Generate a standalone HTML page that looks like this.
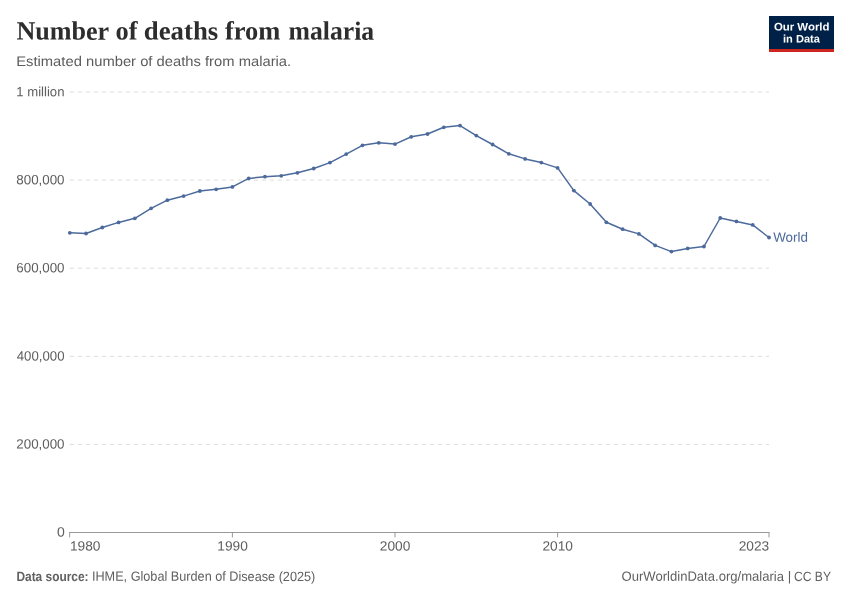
<!DOCTYPE html>
<html><head><meta charset="utf-8"><title>Number of deaths from malaria</title>
<style>
html,body{margin:0;padding:0;background:#fff;}
svg{display:block;font-family:"Liberation Sans",sans-serif;text-rendering:geometricPrecision;}
.t{font-family:"Liberation Serif",serif;font-weight:bold;fill:#2d2d2d;}
.ax{font-size:13.4px;fill:#5e5e5e;}
.ft{font-size:13.4px;fill:#606060;}
</style></head><body>
<svg width="850" height="600" viewBox="0 0 850 600">
<rect width="850" height="600" fill="#fff"/>
<g class="t" font-size="26.4">
<text x="16.4" y="39.6" textLength="92.8" lengthAdjust="spacingAndGlyphs" transform="rotate(0.03 16.4 39.6)">Number</text>
<text x="115.6" y="39.6" textLength="22" lengthAdjust="spacingAndGlyphs" transform="rotate(0.03 115.6 39.6)">of</text>
<text x="143.8" y="39.6" textLength="74.4" lengthAdjust="spacingAndGlyphs" transform="rotate(0.03 143.8 39.6)">deaths</text>
<text x="225" y="39.6" textLength="55.4" lengthAdjust="spacingAndGlyphs" transform="rotate(0.03 225 39.6)">from</text>
<text x="288.6" y="39.6" textLength="85.6" lengthAdjust="spacingAndGlyphs" transform="rotate(0.03 288.6 39.6)">malaria</text>
</g>
<text x="16.2" y="65.9" textLength="275" lengthAdjust="spacingAndGlyphs" font-size="14" fill="#5b5b5b">Estimated number of deaths from malaria.</text>
<g>
<rect x="769" y="16" width="65" height="36" fill="#002147"/>
<rect x="769" y="49" width="65" height="3" fill="#ce261e"/>
<g fill="#fff" font-weight="bold" font-size="11" text-anchor="middle">
<text x="801.7" y="30.5" textLength="55.6" lengthAdjust="spacingAndGlyphs" transform="rotate(0.03 801.7 30.5)">Our World</text>
<text x="801.5" y="42.55" textLength="37" lengthAdjust="spacingAndGlyphs" transform="rotate(0.03 801.5 42.55)">in Data</text>
</g></g>
<g stroke="#ddd" stroke-width="1" stroke-dasharray="4.2,3.8" fill="none"><line x1="69.8" x2="769" y1="92.0" y2="92.0"/><line x1="69.8" x2="769" y1="180.1" y2="180.1"/><line x1="69.8" x2="769" y1="268.2" y2="268.2"/><line x1="69.8" x2="769" y1="356.3" y2="356.3"/><line x1="69.8" x2="769" y1="444.4" y2="444.4"/></g>
<g class="ax">
<text x="16.3" y="96.15" textLength="48.2" lengthAdjust="spacingAndGlyphs" transform="rotate(0.03 16.3 96.15)">1 million</text>
<text x="16.3" y="184.2" textLength="48.2" lengthAdjust="spacingAndGlyphs" transform="rotate(0.03 16.3 184.2)">800,000</text>
<text x="16.3" y="272.2" textLength="48.2" lengthAdjust="spacingAndGlyphs" transform="rotate(0.03 16.3 272.2)">600,000</text>
<text x="16.7" y="360.4" textLength="47.8" lengthAdjust="spacingAndGlyphs" transform="rotate(0.03 16.7 360.4)">400,000</text>
<text x="16.3" y="448.5" textLength="48.2" lengthAdjust="spacingAndGlyphs" transform="rotate(0.03 16.3 448.5)">200,000</text>
<text x="56.9" y="536.5" textLength="7.8" lengthAdjust="spacingAndGlyphs" transform="rotate(0.03 56.9 536.5)">0</text>
</g>
<g stroke="#999" stroke-width="1" fill="none">
<line x1="69.15" x2="769.5" y1="532.5" y2="532.5"/>
<line x1="69.65" x2="69.65" y1="532.5" y2="537.4"/>
<line x1="232.4" x2="232.4" y1="532.5" y2="537.4"/>
<line x1="395" x2="395" y1="532.5" y2="537.4"/>
<line x1="557.6" x2="557.6" y1="532.5" y2="537.4"/>
<line x1="769" x2="769" y1="532.5" y2="537.4"/>
</g>
<g class="ax">
<text x="70" y="550.5" textLength="30.5" lengthAdjust="spacingAndGlyphs" transform="rotate(0.03 70 550.5)">1980</text>
<text x="217.35" y="550.5" textLength="30.5" lengthAdjust="spacingAndGlyphs" transform="rotate(0.03 217.35 550.5)">1990</text>
<text x="379.8" y="550.5" textLength="30.5" lengthAdjust="spacingAndGlyphs" transform="rotate(0.03 379.8 550.5)">2000</text>
<text x="542.4" y="550.5" textLength="30.5" lengthAdjust="spacingAndGlyphs" transform="rotate(0.03 542.4 550.5)">2010</text>
<text x="738.7" y="550.5" textLength="30.5" lengthAdjust="spacingAndGlyphs" transform="rotate(0.03 738.7 550.5)">2023</text>
</g>
<path d="M69.8,232.8 L86.06,233.5 L102.32,227.5 L118.58,222.4 L134.84,218.3 L151.1,208.3 L167.36,200.2 L183.62,196.1 L199.88,191.0 L216.14,189.3 L232.4,186.9 L248.67,178.4 L264.93,176.7 L281.19,175.8 L297.45,172.8 L313.71,168.5 L329.97,162.6 L346.23,154.1 L362.49,145.3 L378.75,142.8 L395.01,144.1 L411.27,136.8 L427.53,134.0 L443.79,127.3 L460.05,125.6 L476.31,135.6 L492.57,144.5 L508.83,153.8 L525.09,158.9 L541.35,162.6 L557.61,167.9 L573.87,190.6 L590.13,204.0 L606.4,222.3 L622.66,229.2 L638.92,233.9 L655.18,245.4 L671.44,251.6 L687.7,248.4 L703.96,246.5 L720.22,218.0 L736.48,221.4 L752.74,224.9 L769.0,237.5" fill="none" stroke="#4c6a9c" stroke-width="1.5" stroke-linejoin="round" stroke-linecap="round"/>
<g fill="#4c6a9c"><circle cx="69.8" cy="232.8" r="1.9"/><circle cx="86.06" cy="233.5" r="1.9"/><circle cx="102.32" cy="227.5" r="1.9"/><circle cx="118.58" cy="222.4" r="1.9"/><circle cx="134.84" cy="218.3" r="1.9"/><circle cx="151.1" cy="208.3" r="1.9"/><circle cx="167.36" cy="200.2" r="1.9"/><circle cx="183.62" cy="196.1" r="1.9"/><circle cx="199.88" cy="191.0" r="1.9"/><circle cx="216.14" cy="189.3" r="1.9"/><circle cx="232.4" cy="186.9" r="1.9"/><circle cx="248.67" cy="178.4" r="1.9"/><circle cx="264.93" cy="176.7" r="1.9"/><circle cx="281.19" cy="175.8" r="1.9"/><circle cx="297.45" cy="172.8" r="1.9"/><circle cx="313.71" cy="168.5" r="1.9"/><circle cx="329.97" cy="162.6" r="1.9"/><circle cx="346.23" cy="154.1" r="1.9"/><circle cx="362.49" cy="145.3" r="1.9"/><circle cx="378.75" cy="142.8" r="1.9"/><circle cx="395.01" cy="144.1" r="1.9"/><circle cx="411.27" cy="136.8" r="1.9"/><circle cx="427.53" cy="134.0" r="1.9"/><circle cx="443.79" cy="127.3" r="1.9"/><circle cx="460.05" cy="125.6" r="1.9"/><circle cx="476.31" cy="135.6" r="1.9"/><circle cx="492.57" cy="144.5" r="1.9"/><circle cx="508.83" cy="153.8" r="1.9"/><circle cx="525.09" cy="158.9" r="1.9"/><circle cx="541.35" cy="162.6" r="1.9"/><circle cx="557.61" cy="167.9" r="1.9"/><circle cx="573.87" cy="190.6" r="1.9"/><circle cx="590.13" cy="204.0" r="1.9"/><circle cx="606.4" cy="222.3" r="1.9"/><circle cx="622.66" cy="229.2" r="1.9"/><circle cx="638.92" cy="233.9" r="1.9"/><circle cx="655.18" cy="245.4" r="1.9"/><circle cx="671.44" cy="251.6" r="1.9"/><circle cx="687.7" cy="248.4" r="1.9"/><circle cx="703.96" cy="246.5" r="1.9"/><circle cx="720.22" cy="218.0" r="1.9"/><circle cx="736.48" cy="221.4" r="1.9"/><circle cx="752.74" cy="224.9" r="1.9"/><circle cx="769.0" cy="237.5" r="1.9"/></g>
<text x="773.15" y="241.85" textLength="34.8" lengthAdjust="spacingAndGlyphs" transform="rotate(0.03 773.15 241.85)" font-size="13.3" fill="#4c6a9c">World</text>
<g class="ft">
<text x="16.4" y="580.8" textLength="72.2" lengthAdjust="spacingAndGlyphs" transform="rotate(0.03 16.4 580.8)" font-weight="bold" fill="#616161">Data source:</text>
<text x="91.9" y="580.8" textLength="223.4" lengthAdjust="spacingAndGlyphs" transform="rotate(0.03 91.9 580.8)">IHME, Global Burden of Disease (2025)</text>
<text x="621.6" y="580.8" textLength="162.4" lengthAdjust="spacingAndGlyphs" transform="rotate(0.03 621.6 580.8)">OurWorldinData.org/malaria</text>
<text x="787.8" y="580.8" transform="rotate(0.03 787.8 580.8)">|</text>
<text x="794" y="580.8" textLength="37" lengthAdjust="spacingAndGlyphs" transform="rotate(0.03 794 580.8)">CC BY</text>
</g>
</svg>
</body></html>
